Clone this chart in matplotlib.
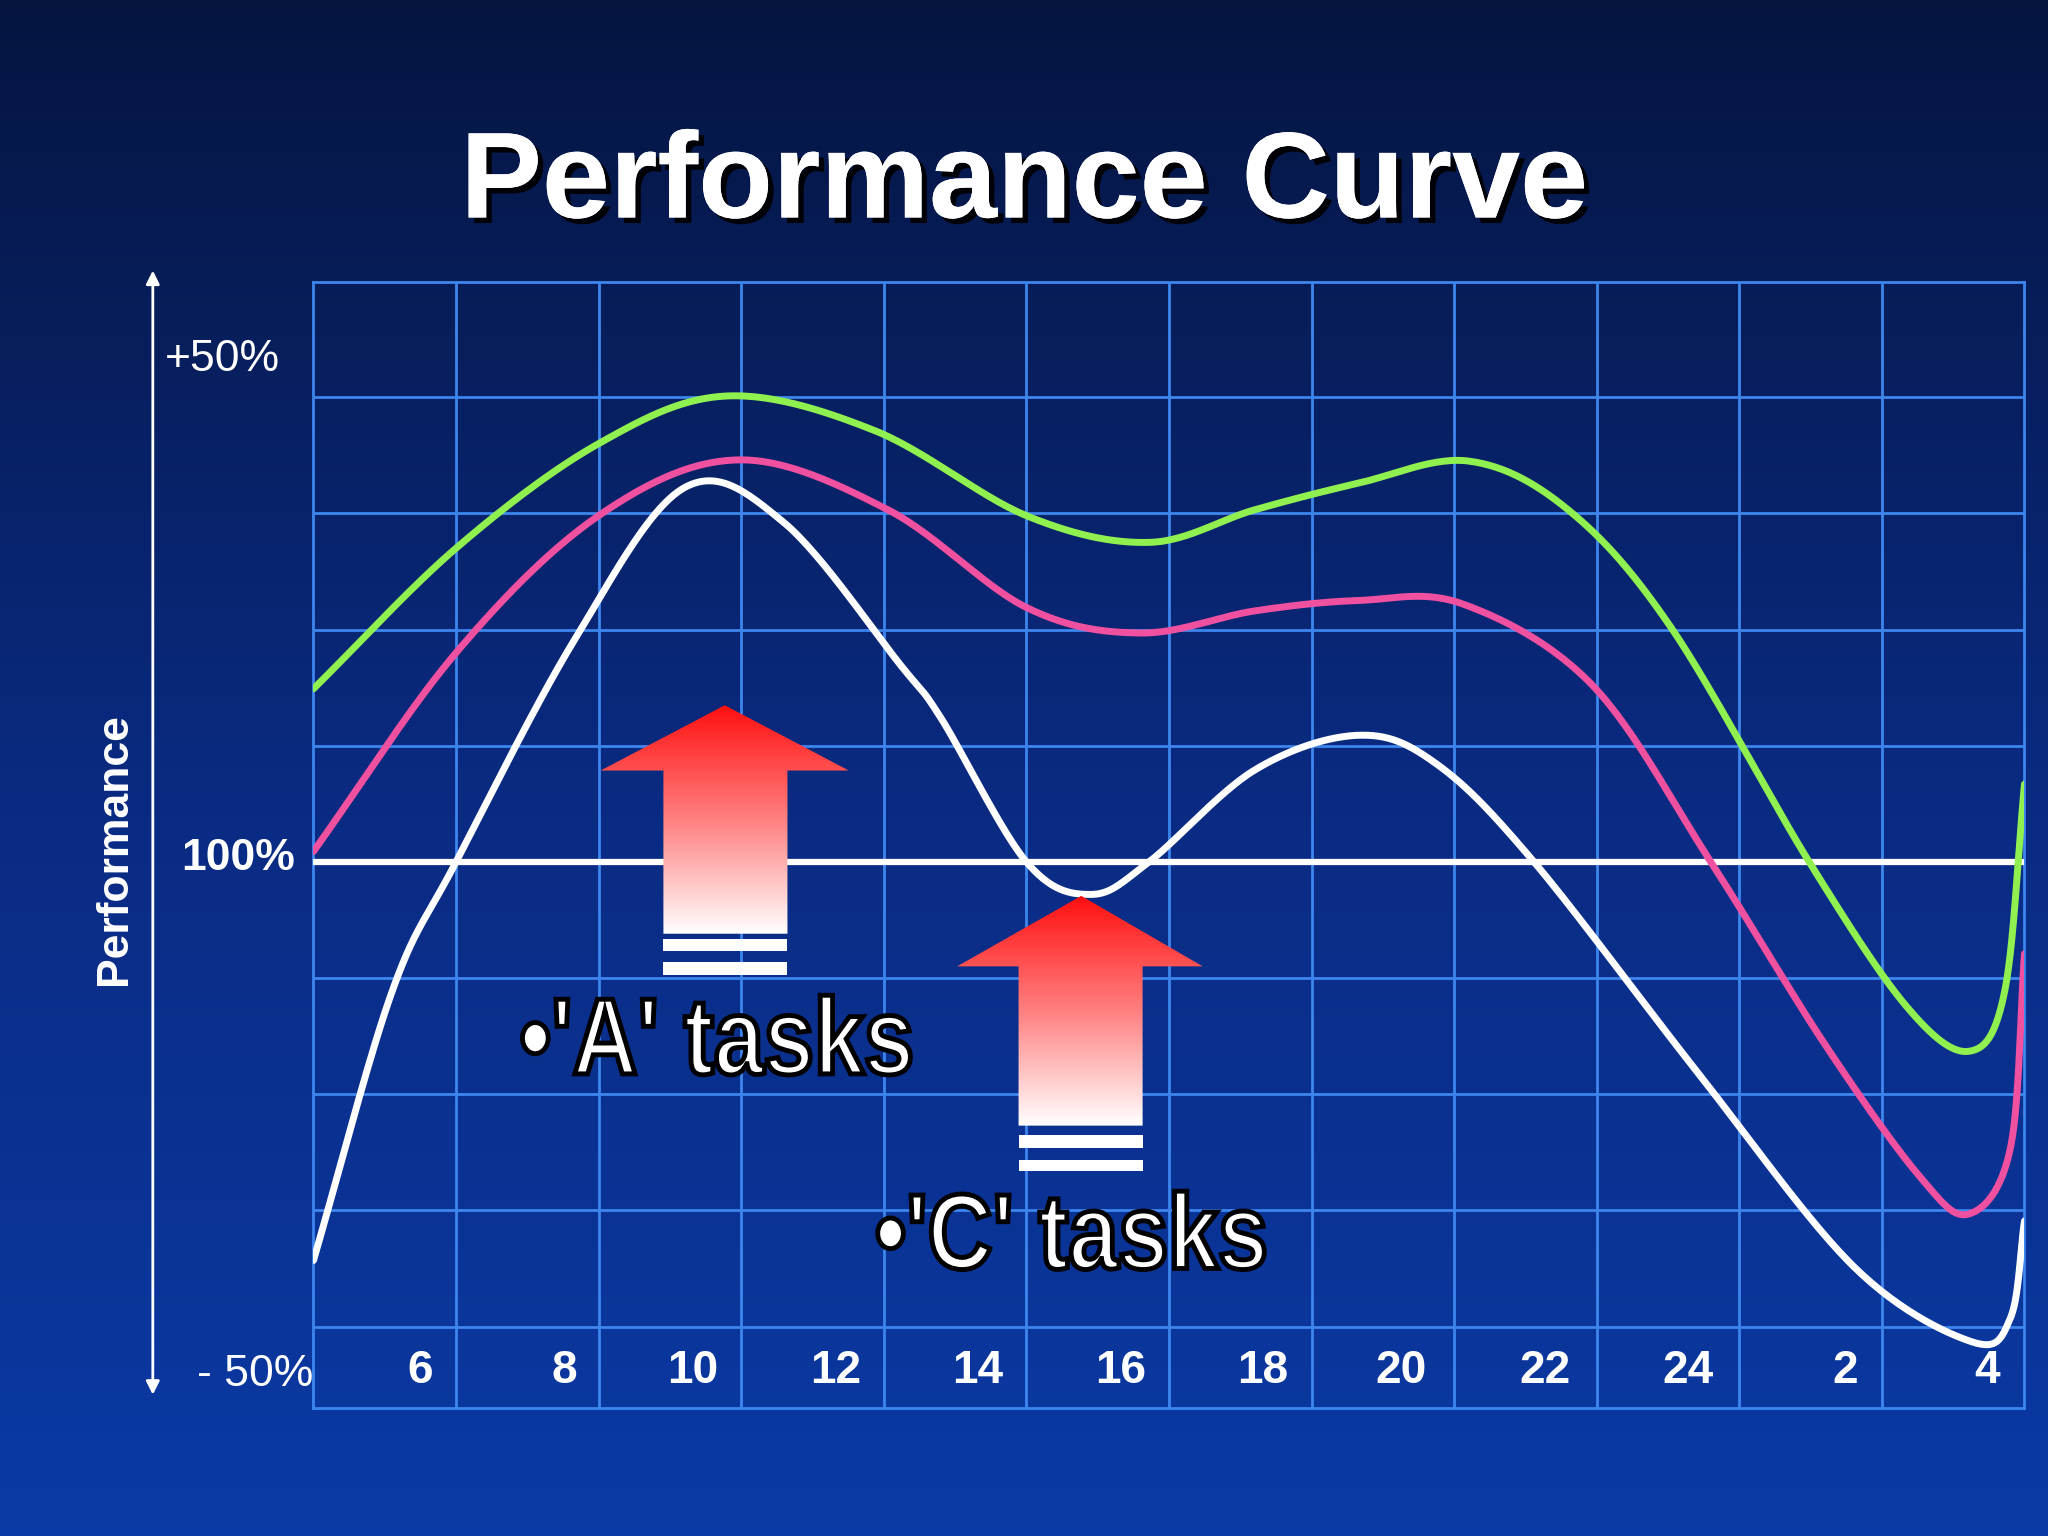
import numpy as np
import matplotlib
matplotlib.use("Agg")
import matplotlib.pyplot as plt
import matplotlib.patheffects as pe
from matplotlib.patches import Polygon, PathPatch
from matplotlib.colors import LinearSegmentedColormap
from matplotlib.textpath import TextPath
from matplotlib.font_manager import FontProperties
from matplotlib.transforms import Affine2D

# ---- data (x in grid columns, y in grid rows; 0 = 100%) ----
green_x = [0, 1.0, 2.0, 2.9, 3.94, 5.0, 5.86, 6.6, 7.33, 8.1, 8.8, 9.52, 10.49, 11.17, 11.61, 11.86, 12]
green_y = [1.49, 2.7, 3.6, 4.01, 3.71, 2.98, 2.75, 3.03, 3.26, 3.45, 3.03, 2.02, 0, -1.24, -1.63, -1.12, 0.67]
pink_x = [0, 1.0, 2.0, 2.98, 4.03, 5.0, 5.8, 6.6, 7.33, 8.06, 8.97, 9.8, 10.6, 11.26, 11.61, 11.9, 12]
pink_y = [0.09, 1.8, 2.98, 3.46, 3.03, 2.19, 1.97, 2.16, 2.25, 2.22, 1.52, 0, -1.57, -2.7, -3.03, -2.47, -0.79]
white_x = [0, 0.55, 1.0, 1.83, 2.6, 3.3, 4.12, 4.4, 5.0, 5.45, 5.86, 6.6, 7.33, 7.88, 8.56, 9.7, 10.8, 11.63, 11.9, 12]
white_y = [-3.43, -1.12, 0, 1.91, 3.22, 2.92, 1.69, 1.24, 0, -0.28, 0, 0.79, 1.09, 0.84, 0, -1.8, -3.48, -4.13, -3.93, -3.09]
tick_labels = ["6", "8", "10", "12", "14", "16", "18", "20", "22", "24", "2", "4"]
tick_pos = [0.75, 1.76, 2.66, 3.66, 4.66, 5.66, 6.66, 7.63, 8.64, 9.64, 10.74, 11.74]

def smooth(xs, ys, n=30):
    P = np.column_stack([xs, ys]).astype(float)
    P = np.vstack([2*P[0]-P[1], P, 2*P[-1]-P[-2]])
    out = []
    t = np.linspace(0, 1, n, endpoint=False)[:, None]
    for i in range(1, len(P)-2):
        p0, p1, p2, p3 = P[i-1], P[i], P[i+1], P[i+2]
        c = 0.5*((2*p1) + (-p0+p2)*t + (2*p0-5*p1+4*p2-p3)*t**2 + (-p0+3*p1-3*p2+p3)*t**3)
        out.append(c)
    out.append(P[-2][None, :])
    a = np.vstack(out)
    return a[:, 0], a[:, 1]

fig = plt.figure(figsize=(20.48, 15.36), dpi=100)
bg = fig.add_axes([0, 0, 1, 1])
grad = np.linspace(0, 1, 256)[:, None]
cm_bg = LinearSegmentedColormap.from_list("bg", ["#051540", "#0a2a80", "#0a3aa5"])
bg.imshow(grad, aspect="auto", cmap=cm_bg, extent=[0, 1, 0, 1], origin="upper")
bg.set_axis_off()

W, H = 1568, 1176
ax = fig.add_axes([240/W, 1-1078/H, (1550-240)/W, (1078-216)/H])
ax.set_xlim(0, 12)
ax.set_ylim(-4.70, 4.99)
ax.patch.set_alpha(0)
for s in ax.spines.values():
    s.set_color("#3d86ee"); s.set_linewidth(2)
ax.set_xticks([]); ax.set_yticks([])
for i in range(1, 12):
    ax.axvline(i, color="#3d86ee", lw=2)
for j in range(-4, 5):
    if j != 0:
        ax.axhline(j, color="#3d86ee", lw=2)
ax.axhline(0, color="white", lw=4.5, zorder=3)

for xs, ys, c in [(green_x, green_y, "#90f050"), (pink_x, pink_y, "#f050a0"), (white_x, white_y, "white")]:
    sx, sy = smooth(xs, ys)
    ax.plot(sx, sy, color=c, lw=5, zorder=4, solid_capstyle="round")

for p, l in zip(tick_pos, tick_labels):
    ax.text(p, -4.38, l, color="white", fontsize=33, fontweight="bold", ha="center", va="center",
            family="Liberation Sans")

# arrows
cm_ar = LinearSegmentedColormap.from_list("ar", ["#ff1010", "#ff8080", "#ffffff"])
def X(px): return (px-240)/109.2
def Y(py): return (660-py)/89
def arrow(tip, basey, hx0, hx1, sx0, sx1, bot, stripes):
    pts = [(X(tip[0]), Y(tip[1])), (X(hx1), Y(basey)), (X(sx1), Y(basey)), (X(sx1), Y(bot)),
           (X(sx0), Y(bot)), (X(sx0), Y(basey)), (X(hx0), Y(basey))]
    poly = Polygon(pts, closed=True, facecolor="none", edgecolor="none", zorder=5)
    ax.add_patch(poly)
    im = ax.imshow(grad, aspect="auto", cmap=cm_ar, extent=[X(hx0), X(hx1), Y(bot), Y(tip[1])],
                   origin="upper", zorder=5)
    im.set_clip_path(poly)
    for a, b in stripes:
        ax.fill_between([X(sx0), X(sx1)], Y(b), Y(a), color="white", lw=0, zorder=5)
arrow((555, 540), 590, 460, 650, 508, 603, 715, [(719, 728), (737, 747)])
arrow((828, 686), 740, 733, 921, 780, 875, 862, [(869, 879), (888, 897)])

# overlay in pixel coordinates for condensed labels
ov = fig.add_axes([0, 0, 1, 1], zorder=10)
ov.set_xlim(0, W); ov.set_ylim(0, H); ov.set_axis_off(); ov.patch.set_alpha(0)
fp = FontProperties(family="Liberation Sans", weight="bold")
def fit_text(s, x0, x1, ytop, ybot):
    tp = TextPath((0, 0), s, size=100, prop=fp)
    ext = tp.get_extents()
    sx = (x1-x0)/ext.width
    sy = (ybot-ytop)/ext.height
    tr = Affine2D().translate(-ext.x0, -ext.y0).scale(sx, sy).translate(x0, H-ybot)
    path = tr.transform_path(tp)
    ov.add_patch(PathPatch(path, facecolor="white", edgecolor="black", lw=3.5, zorder=10))
fit_text("•'A' tasks", 400, 697, 762, 823)
fit_text("•'C' tasks", 672, 968, 912, 972)

fx = lambda px: px/W
fy = lambda py: 1-py/H
fig.text(fx(784), fy(142), "Performance Curve", color="white", fontsize=88, fontweight="bold",
         family=["Liberation Sans", "DejaVu Sans"], ha="center", va="center",
         path_effects=[pe.withSimplePatchShadow(offset=(4, -4), shadow_rgbFace="black", alpha=0.9), pe.Normal()])

# left axis arrow
bg.annotate("", xy=(fx(117), fy(205)), xytext=(fx(117), fy(1070)), xycoords="axes fraction",
            arrowprops=dict(arrowstyle="<|-|>", color="white", lw=2, mutation_scale=20))
fig.text(fx(170), fy(275), "+50%", color="white", fontsize=32, ha="center", va="center", family="Liberation Sans")
fig.text(fx(182), fy(657), "100%", color="white", fontsize=32, fontweight="bold", ha="center", va="center", family="Liberation Sans")
fig.text(fx(195), fy(1052), "- 50%", color="white", fontsize=32, ha="center", va="center", family="Liberation Sans")
fig.text(fx(88), fy(650), "Performance", color="white", fontsize=32, fontweight="bold", rotation=90,
         ha="center", va="center", family="Liberation Sans")

fig.savefig("out.png", dpi=100)
